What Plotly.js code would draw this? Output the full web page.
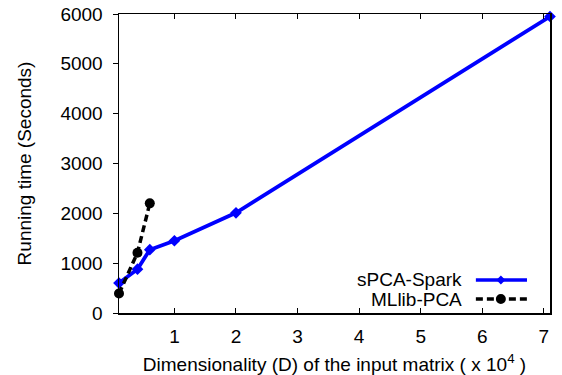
<!DOCTYPE html>
<html>
<head>
<meta charset="utf-8">
<script src="https://cdn.plot.ly/plotly-3.0.1.min.js"></script>
<style>html,body{margin:0;padding:0;background:#fff;}#chart{width:562px;height:375px;}</style>
</head>
<body>
<div id="chart"></div>
<script>
// Dimensionality D (x 10^4)
const spcaX = [0.1, 0.4, 0.6, 1, 2, 7.1];
const spcaY = [600, 880, 1270, 1450, 2010, 5950];
const mllibX = [0.1, 0.4, 0.6];
const mllibY = [390, 1210, 2200];
const seriesNames = ["sPCA-Spark", "MLlib-PCA"];
const xTickVals = [1, 2, 3, 4, 5, 6, 7];
const yTickVals = [0, 1000, 2000, 3000, 4000, 5000, 6000];

const FONT = "Liberation Sans, Arial, Helvetica, sans-serif";
const FS = 19;

const traces = [
  {x: spcaX, y: spcaY, name: seriesNames[0], type: "scatter", mode: "lines+markers",
   line: {color: "#0000ff", width: 3.8}, marker: {symbol: "diamond", size: 9, color: "#0000ff"},
   cliponaxis: false, showlegend: false},
  {x: mllibX, y: mllibY, name: seriesNames[1], type: "scatter", mode: "lines+markers",
   line: {color: "#000000", width: 3.5, dash: "7px,4px"}, marker: {symbol: "circle", size: 10, color: "#000000"},
   cliponaxis: false, showlegend: false}
];

// legend drawn in the gnuplot style: text right-aligned, sample line to the right
const legText = 0.8005, legL = 0.828, legR = 0.9466, legM = 0.886;
const legY = [0.1104, 0.0468];
const annotations = seriesNames.map((n, i) => ({
  xref: "paper", yref: "paper", x: legText, y: legY[i], xanchor: "right", yanchor: "middle",
  text: n, showarrow: false, font: {family: FONT, size: FS, color: "#000"}
}));
const legColors = ["#0000ff", "#000000"];
const legDash = ["solid", "7px,4px"];
const shapes = [];
seriesNames.forEach((n, i) => {
  shapes.push({type: "line", xref: "paper", yref: "paper", x0: legL, x1: legR, y0: legY[i], y1: legY[i],
    line: {color: legColors[i], width: 3.5, dash: legDash[i]}});
});
// legend markers (pixel sized)
shapes.push({type: "path", xref: "paper", yref: "paper", xsizemode: "pixel", ysizemode: "pixel",
  xanchor: legM, yanchor: legY[0], path: "M0,4.5 L4.5,0 L0,-4.5 L-4.5,0 Z",
  fillcolor: "#0000ff", line: {width: 0}});
shapes.push({type: "circle", xref: "paper", yref: "paper", xsizemode: "pixel", ysizemode: "pixel",
  xanchor: legM, yanchor: legY[1], x0: -5, x1: 5, y0: -5, y1: 5,
  fillcolor: "#000000", line: {width: 0}});

const layout = {
  width: 562, height: 375,
  margin: {l: 119, r: 12, t: 14, b: 62},
  paper_bgcolor: "#ffffff", plot_bgcolor: "#ffffff",
  font: {family: FONT, size: FS, color: "#000"},
  showlegend: false,
  xaxis: {
    range: [0.1, 7.1], tickvals: xTickVals, ticktext: xTickVals.map(String),
    ticks: "inside", ticklen: 5, tickwidth: 1, tickcolor: "#000",
    showline: true, linecolor: "#000", linewidth: 1.5, mirror: "ticks",
    showgrid: false, zeroline: false, ticklabelstandoff: 6,
    tickfont: {family: FONT, size: FS},
    title: {text: "Dimensionality (D) of the input matrix ( x 10<sup>4</sup> )", font: {family: FONT, size: FS}, standoff: 11}
  },
  yaxis: {
    range: [0, 6000], tickvals: yTickVals, ticktext: yTickVals.map(String),
    ticks: "outside", ticklen: 5, tickwidth: 1, tickcolor: "#000",
    showline: true, linecolor: "#000", linewidth: 1.5, mirror: true,
    showgrid: false, zeroline: false, ticklabelstandoff: 6,
    tickfont: {family: FONT, size: FS},
    title: {text: "Running time (Seconds)", font: {family: FONT, size: FS}, standoff: 24}
  },
  yaxis2: {
    range: [0, 6000], tickvals: yTickVals, overlaying: "y", side: "right", anchor: "x",
    ticks: "inside", ticklen: 5, tickcolor: "#000", showticklabels: false,
    showline: false, showgrid: false, zeroline: false
  },
  annotations: annotations,
  shapes: shapes
};

Plotly.newPlot("chart", traces, layout, {staticPlot: true, displayModeBar: false});
</script>
</body>
</html>
